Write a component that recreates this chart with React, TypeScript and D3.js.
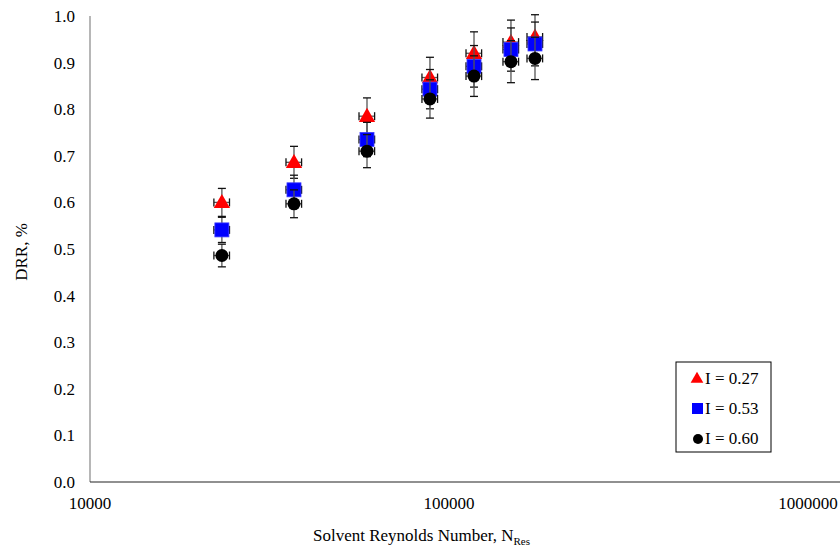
import React from 'react'
import * as d3 from 'd3'

// Solvent Reynolds numbers (x) shared by every series
const reynolds = [23300, 37000, 59100, 88500, 117400, 148800, 173600]

// DRR values per turbulence intensity
const drrI027 = [0.600, 0.686, 0.785, 0.868, 0.920, 0.944, 0.955]
const drrI053 = [0.541, 0.627, 0.735, 0.843, 0.892, 0.928, 0.940]
const drrI060 = [0.486, 0.597, 0.710, 0.822, 0.871, 0.902, 0.909]

// Excel style percentage error bars
const errPct = 0.05

const yTicks = [0, 0.1, 0.2, 0.3, 0.4, 0.5, 0.6, 0.7, 0.8, 0.9, 1.0]
const xTicks = [10000, 100000, 1000000]

const seriesNames = ['I = 0.27', 'I = 0.53', 'I = 0.60']

const W = 840
const H = 547
const margin = { top: 16, right: 32, bottom: 65, left: 90 }
const font = '"Liberation Serif", "Times New Roman", serif'
const fs = 17

type Shape = 'triangle' | 'square' | 'circle'

const Marker: React.FC<{ shape: Shape; x: number; y: number; color: string }> = ({ shape, x, y, color }) => {
  if (shape === 'triangle') {
    const p = d3.symbol(d3.symbolTriangle, 115)()
    return <path d={p || ''} transform={`translate(${x},${y + 1})`} fill={color} />
  }
  if (shape === 'square') {
    return <rect x={x - 7} y={y - 7} width={14} height={14} fill={color} stroke="#3a3aff" strokeWidth={0.8} />
  }
  return <circle cx={x} cy={y} r={6.5} fill={color} />
}

export default function App() {
  const x = d3.scaleLog().domain([10000, 1000000]).range([margin.left, W - margin.right])
  const y = d3.scaleLinear().domain([0, 1]).range([H - margin.bottom, margin.top])

  const series = [
    { name: seriesNames[0], values: drrI027, color: '#ff0000', shape: 'triangle' as Shape },
    { name: seriesNames[1], values: drrI053, color: '#0000ff', shape: 'square' as Shape },
    { name: seriesNames[2], values: drrI060, color: '#000000', shape: 'circle' as Shape }
  ]

  const cap = 4

  return (
    <svg width={W} height={H} style={{ position: 'absolute', left: 0, top: 0, background: '#fff' }} fontFamily={font}>
      {/* axes */}
      <line x1={margin.left} x2={margin.left} y1={y(1)} y2={y(0)} stroke="#868686" strokeWidth={1.2} />
      <line x1={margin.left} x2={W} y1={y(0)} y2={y(0)} stroke="#222" strokeWidth={1.2} />

      {yTicks.map(t => (
        <text key={t} x={75} y={y(t)} dy="0.35em" textAnchor="end" fontSize={fs} fill="#000">
          {t.toFixed(1)}
        </text>
      ))}
      {xTicks.map(t => (
        <text key={t} x={x(t)} y={509} textAnchor="middle" fontSize={fs} fill="#000">
          {t}
        </text>
      ))}

      <text x={313} y={541} fontSize={fs} fill="#000">
        Solvent Reynolds Number, N<tspan fontSize={11} dy={4}>Res</tspan>
      </text>
      <text transform={`translate(27,${252}) rotate(-90)`} textAnchor="middle" fontSize={fs} fill="#000">
        DRR, %
      </text>

      {/* series: error bars then markers */}
      {series.map(s => (
        <g key={s.name}>
          {s.values.map((v, i) => {
            const cx = x(reynolds[i])
            const cy = y(v)
            const x0 = x(reynolds[i] * (1 - errPct))
            const x1 = x(reynolds[i] * (1 + errPct))
            const y0 = y(v * (1 - errPct))
            const y1 = y(v * (1 + errPct))
            return (
              <g key={i} stroke="#111" strokeWidth={1.3}>
                <line x1={cx} x2={cx} y1={y0} y2={y1} stroke="#555" />
                <line x1={cx - cap} x2={cx + cap} y1={y0} y2={y0} />
                <line x1={cx - cap} x2={cx + cap} y1={y1} y2={y1} />
                <line x1={x0} x2={x1} y1={cy} y2={cy} stroke="#555" />
                <line x1={x0} x2={x0} y1={cy - cap} y2={cy + cap} />
                <line x1={x1} x2={x1} y1={cy - cap} y2={cy + cap} />
              </g>
            )
          })}
          {s.values.map((v, i) => (
            <Marker key={i} shape={s.shape} x={x(reynolds[i])} y={y(v)} color={s.color} />
          ))}
        </g>
      ))}

      {/* legend */}
      <rect x={676} y={362} width={95} height={90} fill="#fff" stroke="#000" strokeWidth={1} />
      {series.map((s, i) => (
        <g key={s.name} transform={`translate(0,${378 + i * 30})`}>
          {s.shape === 'circle' ? (
            <circle cx={698} cy={1} r={5} fill={s.color} />
          ) : s.shape === 'square' ? (
            <rect x={692} y={-5} width={11} height={11} fill={s.color} />
          ) : (
            <path d={d3.symbol(d3.symbolTriangle, 70)() || ''} transform="translate(697,1)" fill={s.color} />
          )}
          <text x={705} y={0} dy="0.35em" fontSize={fs} fill="#000">
            {s.name}
          </text>
        </g>
      ))}
    </svg>
  )
}
